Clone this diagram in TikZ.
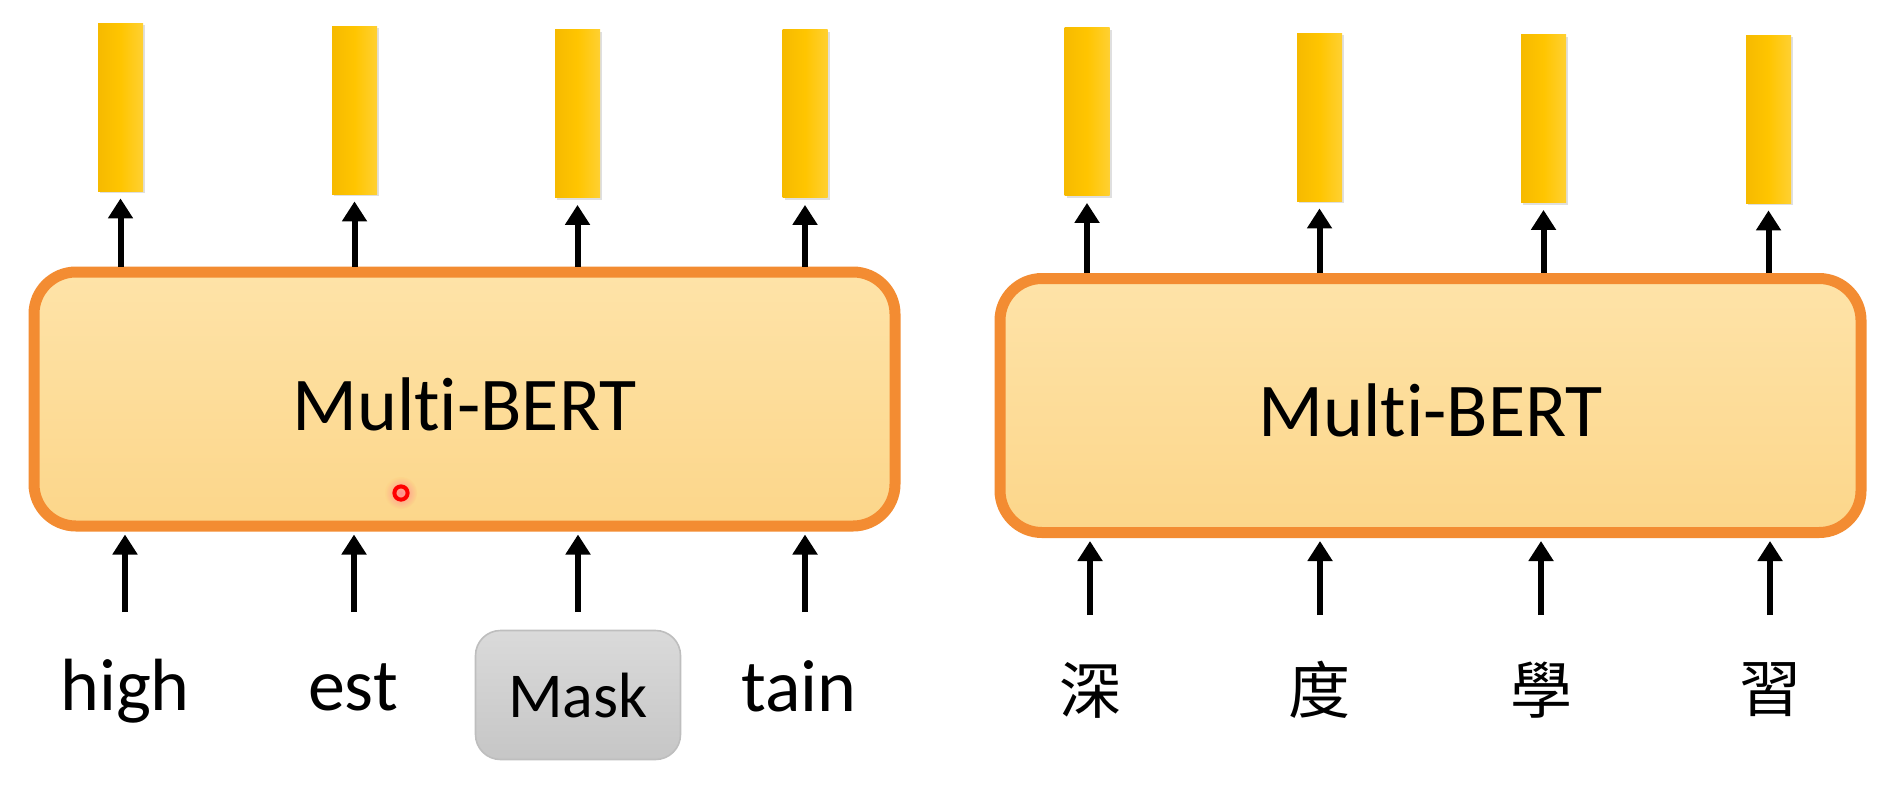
\documentclass[tikz,border=0pt]{standalone}
\usepackage{fontspec}
\setmainfont[Ligatures=NoCommon]{Carlito}
\newfontfamily\cjk{Noto Sans CJK TC}
\usetikzlibrary{arrows.meta,shadows}
\definecolor{bertTop}{RGB}{254,227,168}
\definecolor{bertBot}{RGB}{252,214,138}
\definecolor{bertLine}{RGB}{243,140,50}
\definecolor{goldL}{RGB}{246,186,0}
\definecolor{goldM}{RGB}{255,197,0}
\definecolor{goldR}{RGB}{255,208,50}
\definecolor{maskTop}{RGB}{218,218,218}
\definecolor{maskBot}{RGB}{198,198,198}
\definecolor{maskLine}{RGB}{190,190,190}
\begin{document}
\begin{tikzpicture}[x=0.5pt,y=-0.5pt,
	vec/.style={left color=goldL,right color=goldR,middle color=goldM,minimum width=22.5pt,minimum height=84pt,inner sep=0pt,
		drop shadow={opacity=.25,shadow xshift=1pt,shadow yshift=-1.2pt}},
	bert/.style={draw=bertLine,line width=5.5pt,rounded corners=21pt,top color=bertTop,bottom color=bertBot,
		minimum width=430.5pt,minimum height=127pt,font=\fontsize{38}{44}\selectfont,text height=31pt,text depth=0pt},
	up/.style={-{Triangle[width=12pt,length=10pt]},line width=3pt},
	word/.style={font=\fontsize{37}{44}\selectfont,anchor=base,inner sep=0pt},
	mask/.style={draw=maskLine,line width=.8pt,rounded corners=12.5pt,top color=maskTop,bottom color=maskBot,
		minimum width=102.5pt,minimum height=64.5pt,font=\fontsize{32}{38}\selectfont},
	zh/.style={font=\cjk\fontsize{31}{36}\selectfont,inner sep=0pt}]
	\useasboundingbox (0,0) rectangle (1898,788);
	\fill[white] (0,0) rectangle (1898,788);
	\foreach \x/\y [count=\i] in {120.5/107,354.5/110,577.5/113.5,805/113.5}
		\node[vec] (vecL\i) at (\x,\y) {};
	\foreach \x/\y [count=\i] in {1087/111.5,1319.5/117,1543.5/118.5,1768.5/119}
		\node[vec] (vecR\i) at (\x,\y) {};
	\node[bert] (bertL) at (464.5,399) {Multi-BERT};
	\node[bert] (bertR) at (1430.5,405.5) {Multi-BERT};
	\shade[inner color=red!45,outer color=bertBot] (401,493) circle (8pt);
	\draw[red,line width=2pt] (401,493) circle (3.3pt);
	\node[word] (tokL1) at (125,710) {high};
	\node[word] (tokL2) at (353,710) {est};
	\node[mask] (tokL3) at (578,695) {Mask};
	\node[word] (tokL4) at (799,711) {tain};
	\foreach \x/\t [count=\i] in {1090/深,1319/度,1541/學,1770/習}
		\node[zh] (tokR\i) at (\x,690) {\t};
	\foreach \x [count=\i] in {125,354,578,805}
		\coordinate (inL\i) at (\x,612);
	\foreach \x [count=\i] in {1090,1320,1541,1770}
		\coordinate (inR\i) at (\x,615);
	\foreach \i in {1,...,4}{
		\draw[up,shorten >=3.5pt] (bertL.north -| vecL\i.south) -- (vecL\i.south);
		\draw[up,shorten >=3.5pt] (bertR.north -| vecR\i.south) -- (vecR\i.south);
		\draw[up,shorten >=1.5pt] (inL\i) -- (inL\i |- bertL.south);
		\draw[up,shorten >=1.5pt] (inR\i) -- (inR\i |- bertR.south);
	}
\end{tikzpicture}
\end{document}
